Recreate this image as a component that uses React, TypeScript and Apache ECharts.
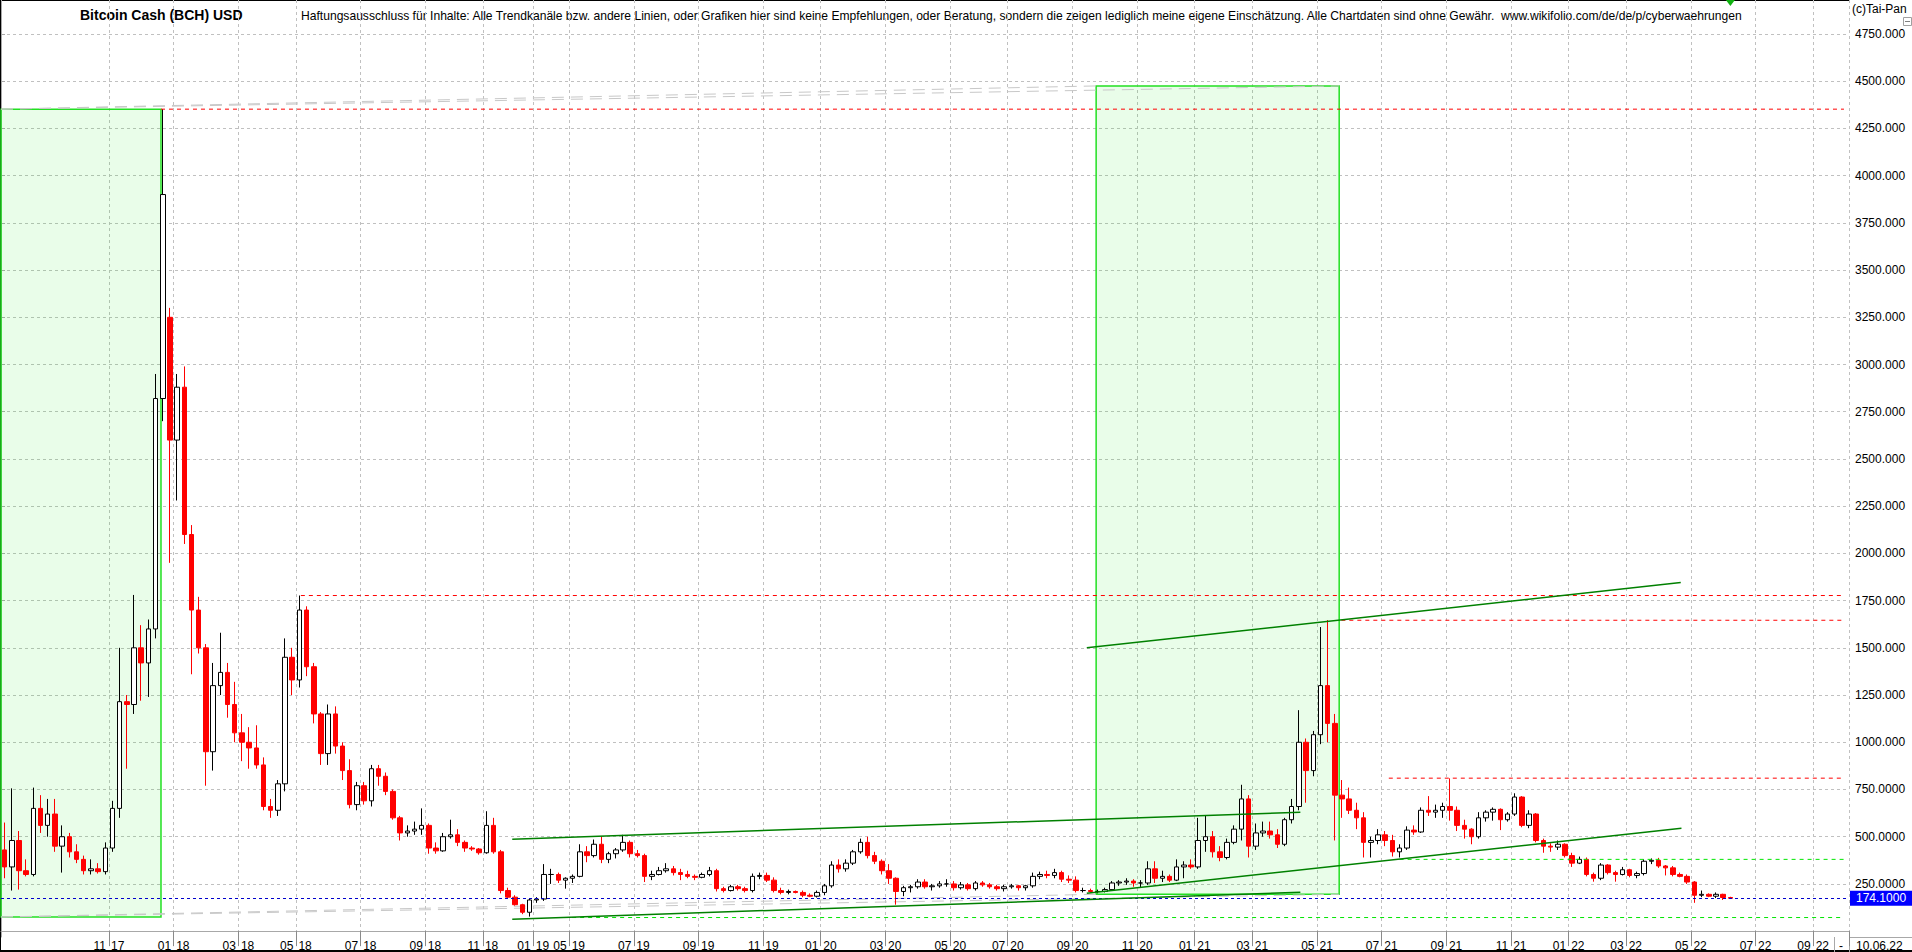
import React, { useEffect, useRef } from "react";
import * as echarts from "echarts";

const FONT = '"Liberation Sans", Arial, sans-serif';
const SLOT_COUNT = 257;

// month ticks: first day of month -> slot index (weekly slots, data gap early 2019)
const MONTH_TICKS: [string, number][] = [
  ["2017-11-01", 15], ["2018-01-01", 24], ["2018-03-01", 33], ["2018-05-01", 41],
  ["2018-07-01", 50], ["2018-09-01", 59], ["2018-11-01", 67], ["2019-01-01", 74],
  ["2019-05-01", 79], ["2019-07-01", 88], ["2019-09-01", 97], ["2019-11-01", 106],
  ["2020-01-01", 114], ["2020-03-01", 123], ["2020-05-01", 132], ["2020-07-01", 140],
  ["2020-09-01", 149], ["2020-11-01", 158], ["2021-01-01", 166], ["2021-03-01", 174],
  ["2021-05-01", 183], ["2021-07-01", 192], ["2021-09-01", 201], ["2021-11-01", 210],
  ["2022-01-01", 218], ["2022-03-01", 226], ["2022-05-01", 235], ["2022-07-01", 244],
  ["2022-09-01", 252],
];

// weekly candles [open, high, low, close]
const BARS: [number, number, number, number][] = [
  [430, 575, 280, 340], [340, 756, 215, 480], [480, 530, 220, 320], [320, 380, 290, 300],
  [300, 760, 290, 650], [650, 720, 520, 560], [560, 700, 500, 620], [620, 700, 420, 450],
  [450, 560, 310, 500], [500, 520, 390, 420], [420, 460, 360, 380], [380, 400, 300, 320],
  [320, 380, 300, 330], [330, 360, 305, 315], [315, 470, 300, 440], [440, 690, 420, 650],
  [650, 1500, 600, 1215], [1215, 1250, 860, 1200], [1200, 1780, 1150, 1500], [1500, 1620, 1220, 1420],
  [1420, 1650, 1240, 1600], [1600, 2950, 1550, 2820], [2820, 4352, 2700, 3900], [3250, 3300, 1950, 2600],
  [2600, 2950, 2280, 2880], [2880, 2990, 2050, 2100], [2100, 2150, 1360, 1700], [1700, 1770, 1470, 1500],
  [1500, 1520, 770, 950], [950, 1420, 850, 1300], [1300, 1580, 1250, 1370], [1370, 1420, 1130, 1200],
  [1200, 1320, 1000, 1050], [1050, 1150, 900, 1000], [1000, 1080, 860, 970], [970, 1090, 860, 880],
  [880, 920, 640, 660], [660, 700, 600, 640], [640, 800, 610, 780], [780, 1550, 740, 1450],
  [1450, 1500, 1250, 1330], [1330, 1777, 1290, 1700], [1700, 1720, 1350, 1400], [1400, 1420, 1100, 1150],
  [1150, 1160, 880, 940], [940, 1200, 880, 1150], [1150, 1190, 940, 980], [980, 1000, 800, 850],
  [850, 910, 650, 670], [670, 790, 640, 770], [770, 790, 670, 690], [690, 880, 660, 860],
  [860, 880, 770, 820], [820, 840, 720, 740], [740, 750, 590, 600], [600, 610, 480, 520],
  [520, 560, 500, 530], [530, 580, 510, 540], [540, 650, 510, 560], [560, 570, 410, 440],
  [440, 470, 410, 425], [425, 520, 420, 500], [500, 590, 490, 510], [510, 540, 450, 470],
  [470, 480, 420, 440], [440, 450, 425, 435], [435, 440, 405, 415], [415, 635, 410, 560],
  [560, 600, 410, 420], [420, 430, 200, 215], [215, 230, 170, 180], [180, 190, 135, 140],
  [140, 145, 90, 100], [100, 175, 77, 165], [165, 180, 150, 170], [170, 355, 160, 300],
  [300, 330, 250, 300], [300, 310, 255, 270], [270, 285, 225, 280], [280, 300, 255, 290],
  [290, 460, 285, 420], [420, 450, 365, 400], [400, 485, 390, 460], [460, 500, 360, 380],
  [380, 420, 360, 410], [410, 440, 385, 430], [430, 510, 420, 470], [470, 480, 390, 410],
  [410, 430, 390, 400], [400, 410, 260, 290], [290, 320, 270, 300], [300, 340, 295, 320],
  [320, 360, 310, 330], [330, 345, 295, 310], [310, 330, 270, 300], [300, 320, 280, 290],
  [290, 300, 270, 285], [285, 310, 280, 300], [300, 340, 290, 320], [320, 330, 210, 225],
  [225, 235, 205, 215], [215, 245, 210, 235], [235, 245, 215, 225], [225, 235, 205, 215],
  [215, 305, 205, 290], [290, 310, 275, 295], [295, 310, 260, 270], [270, 285, 205, 215],
  [215, 230, 195, 205], [205, 220, 195, 210], [210, 215, 200, 205], [205, 215, 180, 190],
  [190, 200, 180, 185], [185, 215, 178, 205], [205, 250, 190, 240], [240, 370, 230, 350],
  [350, 380, 310, 330], [330, 380, 315, 360], [360, 430, 350, 420], [420, 490, 410, 470],
  [470, 500, 385, 400], [400, 420, 355, 370], [370, 380, 300, 320], [320, 355, 250, 280],
  [280, 285, 140, 210], [210, 240, 185, 230], [230, 245, 205, 235], [235, 275, 225, 260],
  [260, 275, 225, 235], [235, 250, 215, 240], [240, 265, 230, 250], [250, 275, 235, 250],
  [250, 265, 215, 230], [230, 260, 220, 245], [245, 255, 215, 225], [225, 265, 215, 255],
  [255, 265, 235, 245], [245, 255, 225, 235], [235, 245, 215, 225], [225, 245, 210, 235],
  [235, 250, 225, 240], [240, 245, 215, 230], [230, 245, 215, 240], [240, 310, 230, 290],
  [290, 315, 275, 300], [300, 320, 280, 295], [295, 330, 280, 310], [310, 320, 260, 275],
  [275, 295, 255, 270], [270, 290, 205, 215], [215, 230, 205, 215], [215, 225, 205, 210],
  [210, 220, 200, 210], [210, 230, 205, 220], [220, 265, 215, 255], [255, 270, 240, 260],
  [260, 280, 245, 265], [265, 275, 235, 255], [255, 270, 230, 255], [255, 370, 245, 330],
  [330, 370, 255, 280], [280, 320, 260, 290], [290, 300, 260, 270], [270, 380, 265, 340],
  [340, 370, 280, 350], [350, 380, 330, 340], [340, 600, 330, 480], [480, 610, 420, 500],
  [500, 530, 390, 420], [420, 450, 370, 390], [390, 490, 380, 470], [470, 560, 460, 540],
  [540, 775, 480, 700], [700, 720, 390, 450], [450, 570, 430, 520], [520, 580, 500, 530],
  [530, 580, 490, 510], [510, 540, 440, 460], [460, 600, 450, 590], [590, 700, 570, 660],
  [660, 1170, 640, 1000], [1000, 1020, 680, 850], [850, 1060, 820, 1040], [1040, 1610, 990, 1300],
  [1300, 1647, 1000, 1100], [1100, 1150, 480, 720], [720, 800, 600, 700], [700, 760, 620, 640],
  [640, 680, 540, 600], [600, 630, 390, 470], [470, 500, 390, 480], [480, 540, 460, 510],
  [510, 530, 450, 480], [480, 510, 395, 420], [420, 460, 390, 440], [440, 555, 430, 535],
  [535, 560, 510, 525], [525, 655, 520, 640], [640, 715, 610, 630], [630, 670, 600, 640],
  [640, 680, 600, 660], [660, 809, 585, 640], [640, 660, 530, 560], [560, 590, 490, 540],
  [540, 545, 460, 500], [500, 630, 490, 600], [600, 640, 580, 630], [630, 655, 585, 645],
  [645, 650, 535, 590], [590, 630, 580, 620], [620, 730, 610, 710], [710, 715, 550, 560],
  [560, 640, 545, 620], [620, 625, 470, 480], [480, 490, 415, 450], [450, 465, 420, 445],
  [445, 480, 430, 460], [460, 465, 390, 400], [400, 415, 340, 360], [360, 395, 355, 380],
  [380, 390, 290, 300], [300, 310, 262, 280], [280, 360, 270, 350], [350, 355, 300, 310],
  [310, 320, 262, 300], [300, 340, 295, 325], [325, 330, 285, 295], [295, 315, 280, 305],
  [305, 380, 295, 370], [370, 385, 355, 375], [375, 388, 335, 345], [345, 350, 295, 335],
  [335, 345, 290, 300], [300, 310, 285, 290], [290, 300, 250, 260], [260, 265, 150, 190],
  [190, 215, 180, 195], [195, 200, 180, 185], [185, 205, 175, 195], [195, 198, 165, 178],
  [178, 182, 170, 174.1],
];

const LAST_PRICE = 174.1;
const LAST_DATE = "10.06.22";
const Y_MIN = -31;
const Y_MAX = 4930;
const Y_TICKS = [250, 500, 750, 1000, 1250, 1500, 1750, 2000, 2250, 2500, 2750, 3000, 3250, 3500, 3750, 4000, 4250, 4500, 4750];

// annotations in [slot, price]
const ZONES: [[number, number], [number, number]][] = [
  [[0, 75], [22.25, 4352]],
  [[152.3, 195], [186.1, 4475]],
];
const RESISTANCE: [number, number, number][] = [
  [22.25, 256.3, 4352], [41.7, 256.3, 1777], [186.4, 256.3, 1646], [193, 256.3, 810],
];
const SUPPORT: [number, number, number][] = [
  [194.5, 256.3, 380], [77.2, 256.3, 72],
];
const TRENDLINES: [number, number][][] = [
  [[71.1, 63], [180.7, 206]],
  [[71.1, 487], [180.7, 630]],
  [[151, 201], [233.7, 545]],
  [[151, 1500], [233.6, 1846]],
];
const PROJECTIONS: [number, number][][] = [
  [[0, 4352], [152.3, 4475]],
  [[0, 4352], [186.1, 4475]],
  [[0, 75], [152.3, 195]],
  [[0, 75], [186.1, 195]],
];

const TITLE = "Bitcoin Cash (BCH) USD";
const DISCLAIMER =
  "Haftungsausschluss für Inhalte: Alle Trendkanäle bzw. andere Linien, oder Grafiken hier sind keine Empfehlungen, oder Beratung, sondern die zeigen lediglich meine eigene Einschätzung. Alle Chartdaten sind ohne Gewähr.  www.wikifolio.com/de/de/p/cyberwaehrungen";
const COPYRIGHT = "(c)Tai-Pan";

const DAY = 86400000;
function buildCategories(): string[] {
  const out: string[] = [];
  const t = MONTH_TICKS.map(([d, s]) => [Date.parse(d + "T00:00:00Z"), s] as [number, number]);
  for (let i = 0; i < SLOT_COUNT; i++) {
    let ms: number;
    if (i <= t[0][1]) ms = t[0][0] - (t[0][1] - i) * 7 * DAY;
    else if (i >= t[t.length - 1][1]) ms = t[t.length - 1][0] + (i - t[t.length - 1][1]) * 7 * DAY;
    else {
      let k = 0;
      while (t[k + 1][1] <= i) k++;
      const f = (i - t[k][1]) / (t[k + 1][1] - t[k][1]);
      ms = t[k][0] + f * (t[k + 1][0] - t[k][0]);
    }
    out.push(new Date(Math.round(ms / DAY) * DAY).toISOString().slice(0, 10));
  }
  return out;
}

export default function App() {
  const ref = useRef<HTMLDivElement>(null);
  useEffect(() => {
    if (!ref.current) return;
    const chart = echarts.init(ref.current, null, { renderer: "svg" });
    const categories = buildCategories();
    const tickSet = new Set(MONTH_TICKS.map((m) => m[1]));
    const isTick = (idx: number) => tickSet.has(idx);

    const lineSeries = (pts: [number, number][], color: string, type: any, width: number, z: number) => ({
      type: "line",
      xAxisIndex: 1,
      yAxisIndex: 0,
      data: pts,
      showSymbol: false,
      symbol: "none",
      silent: true,
      z,
      lineStyle: { color, type, width },
    });

    const series: any[] = [
      {
        type: "line",
        xAxisIndex: 1,
        yAxisIndex: 0,
        data: [],
        silent: true,
        z: 1,
        markArea: {
          silent: true,
          itemStyle: { color: "rgba(0,235,0,0.085)", borderColor: "#22e022", borderWidth: 1.5 },
          data: ZONES.map(([a, b]) => [{ coord: a }, { coord: b }]),
        },
      },
      ...PROJECTIONS.map((p) => lineSeries(p, "#c8c8c8", [12, 7], 1, 1)),
      {
        type: "candlestick",
        xAxisIndex: 0,
        yAxisIndex: 0,
        z: 3,
        barWidth: 5,
        data: BARS.map(([o, h, l, c]) => [o, c, l, h]),
        itemStyle: {
          color: "#ffffff",
          color0: "#ff0000",
          borderColor: "#000000",
          borderColor0: "#ff0000",
          borderWidth: 1,
        },
        markLine: {
          silent: true,
          symbol: ["none", "none"],
          data: [{ yAxis: LAST_PRICE }],
          lineStyle: { color: "#0000cc", type: [3, 3], width: 1 },
          label: {
            show: true,
            position: "end",
            distance: 1,
            formatter: LAST_PRICE.toFixed(4),
            color: "#ffffff",
            backgroundColor: "#0000ff",
            padding: [2, 12, 1, 6],
            fontSize: 12,
            fontFamily: FONT,
          },
        },
        markPoint: {
          silent: true,
          data: [
            {
              coord: [BARS.length - 1, Y_MAX],
              symbol: "triangle",
              symbolRotate: 180,
              symbolSize: [9, 6],
              symbolOffset: [0, 3],
              itemStyle: { color: "#10b010" },
              label: { show: false },
            },
          ],
        },
      },
      ...RESISTANCE.map(([a, b, v]) => lineSeries([[a, v], [b, v]], "#ff0000", [4, 4], 1, 4)),
      ...SUPPORT.map(([a, b, v]) => lineSeries([[a, v], [b, v]], "#00e600", [4, 4], 1, 4)),
      ...TRENDLINES.map((p) => lineSeries(p, "#008000", "solid", 1.5, 5)),
    ];

    const option: any = {
      animation: false,
      textStyle: { fontFamily: FONT },
      grid: { left: 1, right: 63, top: 0, bottom: 15, containLabel: false, outerBoundsMode: "none" },
      xAxis: [
        {
          type: "category",
          data: categories,
          boundaryGap: true,
          axisLine: { show: true, lineStyle: { color: "#a8a8a8", width: 1 } },
          axisTick: { show: true, interval: (i: number) => isTick(i), length: 15, lineStyle: { color: "#8a8a8a" } },
          axisLabel: {
            show: true,
            interval: (i: number) => isTick(i),
            hideOverlap: false,
            margin: 3,
            padding: [0, 7, 0, 0],
            formatter: (v: string) => `{m|${v.slice(5, 7)}}{y|${v.slice(2, 4)}}`,
            rich: {
              m: { padding: [0, 2, 0, 0], fontSize: 12, color: "#000", fontFamily: FONT },
              y: { padding: [0, 0, 0, 3], fontSize: 12, color: "#000", fontFamily: FONT },
            },
          },
          splitLine: { show: true, interval: (i: number) => isTick(i), lineStyle: { color: "#c0c0c0", type: [3, 3] } },
        },
        { type: "value", min: 0, max: SLOT_COUNT, show: false },
      ],
      yAxis: {
        type: "value",
        position: "right",
        min: Y_MIN,
        max: Y_MAX,
        axisLine: { show: true, lineStyle: { color: "#a8a8a8" } },
        axisTick: { show: true, customValues: Y_TICKS, length: 4, lineStyle: { color: "#a8a8a8" } },
        axisLabel: {
          show: true,
          customValues: Y_TICKS,
          margin: 6,
          color: "#000",
          fontSize: 12,
          fontFamily: FONT,
          formatter: (v: number) => (v >= 1000 ? v.toFixed(3) : v.toFixed(4)),
        },
        splitLine: { show: true, lineStyle: { color: "#c0c0c0", type: [3, 3] } },
      },
      graphic: [
        { type: "text", left: 80, top: 8, style: { text: TITLE, font: `bold 14px ${FONT}`, fill: "#000" } },
        { type: "text", left: 301, top: 10, style: { text: DISCLAIMER, font: `12.1px ${FONT}`, fill: "#000" } },
        { type: "text", left: 1852, top: 3, style: { text: COPYRIGHT, font: `12px ${FONT}`, fill: "#000" } },
        { type: "rect", shape: { x: 1903.5, y: 17.5, width: 8, height: 8 }, style: { fill: "#fff", stroke: "#a0a0a0" } },
        { type: "line", shape: { x1: 1905, y1: 21.5, x2: 1910, y2: 21.5 }, style: { stroke: "#808080" } },
        { type: "line", shape: { x1: 0, y1: 0.5, x2: 1849, y2: 0.5 }, style: { stroke: "#000", lineWidth: 1 } },
        { type: "line", shape: { x1: 0.5, y1: 0, x2: 0.5, y2: 952 }, style: { stroke: "#000", lineWidth: 1 } },
        { type: "line", shape: { x1: 0, y1: 951, x2: 1912, y2: 951 }, style: { stroke: "#000", lineWidth: 2 } },
        { type: "line", shape: { x1: 1849, y1: 937.5, x2: 1912, y2: 937.5 }, style: { stroke: "#a8a8a8" } },
        { type: "line", shape: { x1: 1849.5, y1: 937, x2: 1849.5, y2: 952 }, style: { stroke: "#a8a8a8" } },
        { type: "line", shape: { x1: 1834.5, y1: 937, x2: 1834.5, y2: 952 }, style: { stroke: "#a8a8a8" } },
        { type: "text", left: 1839, top: 940, style: { text: "-", font: `12px ${FONT}`, fill: "#000" } },
        { type: "text", left: 1856, top: 940, style: { text: LAST_DATE, font: `12px ${FONT}`, fill: "#000" } },
      ],
      series,
    };
    chart.setOption(option);
    return () => chart.dispose();
  }, []);
  return <div ref={ref} style={{ position: "fixed", left: 0, top: 0, width: 1912, height: 952, background: "#fff" }} />;
}
